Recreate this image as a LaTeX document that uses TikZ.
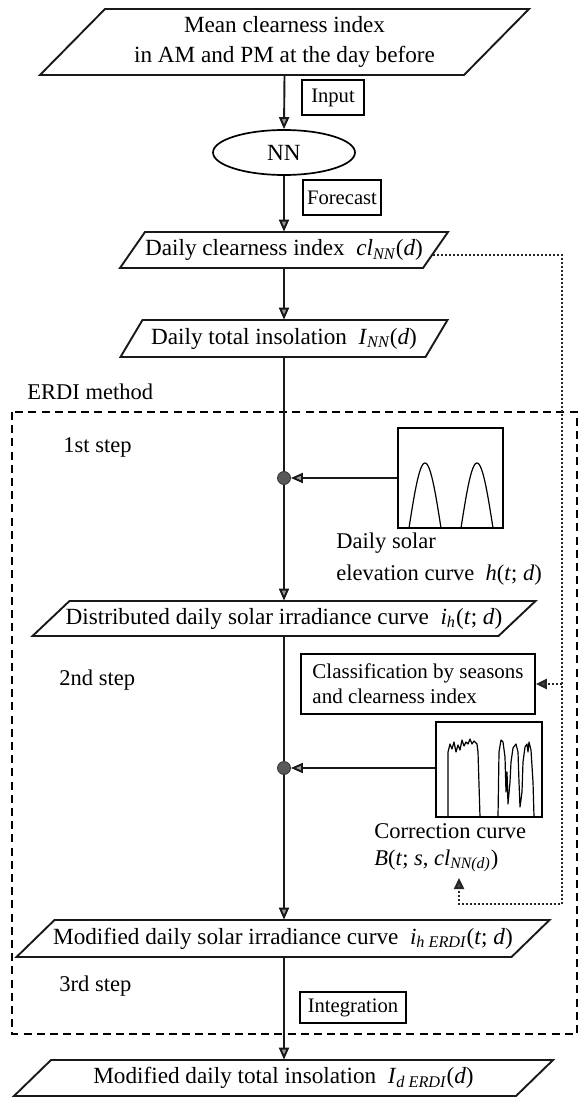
\documentclass[tikz,border=0pt]{standalone}
\usepackage{fontspec}
\setmainfont{Liberation Serif}
\usetikzlibrary{arrows.meta,shapes.geometric}

% italic variable and italic subscript
\newcommand\vv[1]{\textit{#1}}
\newcommand\sub[1]{\textsubscript{\itshape #1}}

\tikzset{
  flow/.style={line width=0.95pt, draw=black!90},
  arr/.style={flow, -{Triangle[length=6pt,width=5pt,fill=black!40]}},
  dotline/.style={line width=1.2pt, draw=black!85, dash pattern=on 0.8pt off 1.2pt},
  dotarr/.style={dotline, -{Triangle[length=5.5pt,width=5pt,fill=black!65]}},
  dashbox/.style={line width=0.9pt, dash pattern=on 4pt off 2.6pt},
  ptext/.style={inner sep=0pt, font=\fontsize{11.6}{15}\selectfont, align=center},
  tagbox/.style={draw, line width=0.8pt, inner sep=0pt, font=\fontsize{10.3}{12.5}\selectfont},
  lbl/.style={inner sep=0pt, anchor=west, font=\fontsize{11.25}{15.5}\selectfont, align=left},
  junction/.style={circle, fill=black!65, draw=black!80, inner sep=0pt, minimum size=6.5pt},
  plotbox/.style={draw, line width=0.8pt, inner sep=0pt},
  curve/.style={line width=0.6pt, line join=round},
}

% slanted data box: name, centre x, centre y, mid width, height, slant, text
\newcommand\slantbox[7]{%
  \node[ptext, minimum width=#4*0.5pt, minimum height=#5*0.5pt] (#1) at (#2,#3) {#7};
  \draw[flow] (#2-#4/2+#6/2,#3-#5/2) -- (#2+#4/2+#6/2,#3-#5/2)
     -- (#2+#4/2-#6/2,#3+#5/2) -- (#2-#4/2-#6/2,#3+#5/2) -- cycle;
}

\begin{document}
\begin{tikzpicture}[x=0.5pt, y=-0.5pt]
\useasboundingbox (0,0) rectangle (580,1097);

% ERDI frame
\draw[dashbox] (12,412) rectangle (577,1034);
\node[lbl] (erdi) at (27,392) {ERDI method};
\node[lbl] (s1) at (63,447) {1st step};
\node[lbl] (s2) at (59,680) {2nd step};
\node[lbl] (s3) at (59,986) {3rd step};

% main chain
\slantbox{p1}{284.5}{42}{424}{66}{65}{Mean clearness index\\in AM and PM at the day before}
\node[draw, ellipse, line width=0.85pt, inner sep=0pt, minimum width=71pt, minimum height=22.5pt,
      font=\fontsize{11.6}{14}\selectfont] (nn) at (284,152.5) {NN};
\slantbox{p2}{284}{250}{303}{36}{25}{Daily clearness index~~\vv{cl}\sub{NN}(\vv{d})}
\slantbox{p3}{284}{338.5}{305}{37}{22}{Daily total insolation~~\vv{I}\sub{NN}(\vv{d})}
\slantbox{p4}{284}{618.5}{466}{35}{37}{Distributed daily solar irradiance curve~~\vv{i}\sub{h}(\vv{t}; \vv{d})}
\slantbox{p5}{283}{938.5}{495}{37}{38}{Modified daily solar irradiance curve~~\vv{i}\sub{h ERDI}(\vv{t}; \vv{d})}
\slantbox{p6}{283.5}{1078}{502}{36}{37}{Modified daily total insolation~~\vv{I}\sub{d ERDI}(\vv{d})}

\node[junction] (d1) at (284,478) {};
\node[junction] (d2) at (284,768) {};

% step tags
\node[tagbox, minimum width=31pt, minimum height=17.5pt] (tin) at (333,97.5) {Input};
\node[tagbox, minimum width=39pt, minimum height=17.5pt] (tfc) at (342,197.5) {Forecast};
\node[tagbox, minimum width=53pt, minimum height=15.5pt] (tint) at (353,1007.5) {Integration};
\node[tagbox, minimum width=117pt, minimum height=30pt, align=left,
      font=\fontsize{10.5}{12.5}\selectfont] (cls) at (418,684)
      {Classification by seasons\\and clearness index};

% inset plots
\node[plotbox, minimum width=52.5pt, minimum height=50pt] (solar) at (450.5,478) {};
\draw[curve] plot[domain=0:1, samples=31, smooth] ({409+32*\x}, {528-65*sin(180*\x)});
\draw[curve] plot[domain=0:1, samples=31, smooth] ({461+32*\x}, {528-65*sin(180*\x)});

\node[plotbox, minimum width=53pt, minimum height=47.5pt] (corr) at (489,769.5) {};
\draw[curve] (448,817) -- (448,752) -- (450,744) -- (452,749) -- (454,742) -- (456,752)
  -- (458,745) -- (460,750) -- (462,740) -- (464,746) -- (466,742) -- (468,744) -- (470,739)
  -- (472,744) -- (474,741) -- (477,744) -- (478,752) -- (480,817);
\draw[curve] (498,817) -- (499,752) -- (501,740) -- (503,742) -- (505,757) -- (506,792)
  -- (507,772) -- (508,804) -- (510,782) -- (511,762) -- (513,748) -- (516,744) -- (518,752)
  -- (519,782) -- (520,807) -- (522,792) -- (523,762) -- (525,747) -- (527,744) -- (528,752)
  -- (529,742) -- (531,750) -- (533,782) -- (534,817);

\node[lbl, font=\fontsize{11.25}{16}\selectfont] (solarlbl) at (336,559)
  {Daily solar\\elevation curve~~\vv{h}(\vv{t}; \vv{d})};
\node[lbl, font=\fontsize{11.25}{13.5}\selectfont] (corrlbl) at (374,848)
  {Correction curve\\\vv{B}(\vv{t}; \vv{s}, \vv{cl}\sub{NN(d)})};

% connectors
\draw[arr] (p1.south) -- (nn.north);
\draw[arr] (nn.south) -- (p2.north -| nn.south);
\draw[arr] (p2.south) -- (p3.north);
\draw[flow] (p3.south) -- (d1);
\draw[arr] (d1) -- (d1 |- p4.north);
\draw[flow] (d1 |- p4.south) -- (d2);
\draw[arr] (d2) -- (d2 |- p5.north);
\draw[arr] (d2 |- p5.south) -- (d2 |- p6.north);
\draw[arr] (solar.west) -- (d1);
\draw[arr] (corr.west |- d2) -- (d2);

% clearness index feed to classification and correction
\coordinate (fb) at (433,255);
\coordinate (rtop) at (562,255);
\coordinate (rbot) at (562,904);
\coordinate (btip) at (459,878);
\draw[dotarr] (fb) -- (rtop) -- (rbot) -| (btip);
\draw[dotarr] (rtop |- cls.east) -- (cls.east);
\end{tikzpicture}
\end{document}
